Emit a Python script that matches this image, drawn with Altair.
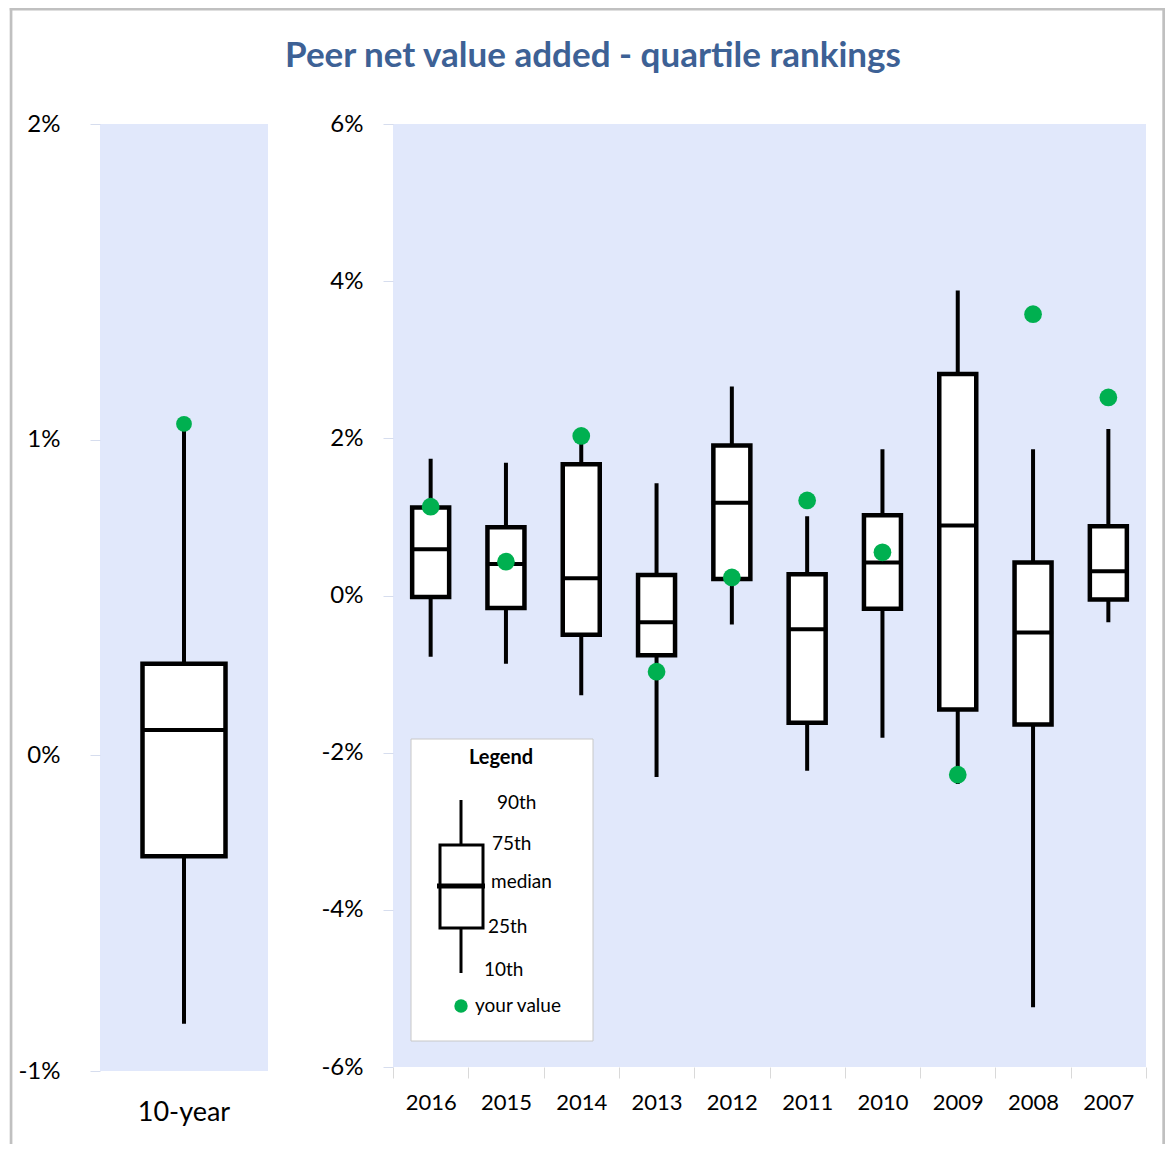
import altair as alt
import pandas as pd

# ---------------- data (percent units) ----------------
years = ["2016", "2015", "2014", "2013", "2012", "2011", "2010", "2009", "2008", "2007"]
yr_p90 = [1.74, 1.69, 1.98, 1.43, 2.66, 1.01, 1.86, 3.88, 1.86, 2.12]
yr_p75 = [1.12, 0.87, 1.67, 0.26, 1.91, 0.27, 1.02, 2.82, 0.42, 0.88]
yr_med = [0.59, 0.40, 0.22, -0.34, 1.18, -0.43, 0.42, 0.89, -0.47, 0.31]
yr_p25 = [-0.02, -0.16, -0.50, -0.76, 0.21, -1.62, -0.17, -1.45, -1.64, -0.05]
yr_p10 = [-0.78, -0.87, -1.27, -2.31, -0.37, -2.23, -1.81, -2.40, -5.24, -0.34]
yr_yours = [1.13, 0.43, 2.03, -0.97, 0.23, 1.21, 0.55, -2.28, 3.58, 2.52]

ten_label = ["10-year"]
ten_p90 = [1.03]
ten_p75 = [0.29]
ten_med = [0.08]
ten_p25 = [-0.32]
ten_p10 = [-0.85]
ten_yours = [1.05]

left_ticks = [-1, 0, 1, 2]
right_ticks = [-6, -4, -2, 0, 2, 4, 6]

title_text = "Peer net value added - quartile rankings"
legend_title = "Legend"
legend_labels = ["90th", "75th", "median", "25th", "10th"]
legend_dot_label = "your value"

# ---------------- styles ----------------
FONT = "Lato"
BG = "#e1e8fb"
GREEN = "#00b050"
TITLE_COLOR = "#3d6195"
FRAME = "#c0c0c0"

df_years = pd.DataFrame({"period": years, "p90": yr_p90, "p75": yr_p75, "median": yr_med,
                         "p25": yr_p25, "p10": yr_p10, "yours": yr_yours})
df_ten = pd.DataFrame({"period": ten_label, "p90": ten_p90, "p75": ten_p75, "median": ten_med,
                       "p25": ten_p25, "p10": ten_p10, "yours": ten_yours})
one = pd.DataFrame({"k": [0]})


def box_layers(df, order, xaxis, yscale, yaxis, box_size, tick_size, dot_size):
    x = alt.X("period:N", sort=order, title=None, axis=xaxis,
              scale=alt.Scale(paddingInner=0, paddingOuter=0))
    base = alt.Chart(df)
    whisk = base.mark_rule(color="black", strokeWidth=4).encode(
        x=x, y=alt.Y("p10:Q", scale=yscale, axis=yaxis, title=None), y2="p90:Q")
    box = base.mark_bar(size=box_size, fill="white", stroke="black", strokeWidth=4.5,
                        strokeJoin="miter").encode(x=x, y="p25:Q", y2="p75:Q")
    med = base.mark_tick(color="black", size=tick_size, thickness=4, opacity=1).encode(x=x, y="median:Q")
    dot = base.mark_circle(color=GREEN, size=dot_size, opacity=1).encode(x=x, y="yours:Q")
    return [whisk, box, med, dot]


def yaxis(vals, pad):
    return alt.Axis(values=vals, labelExpr="datum.value + '%'", labelFont=FONT, labelFontSize=24,
                    labelColor="black", tickColor="#d6ddee", tickSize=10, labelPadding=pad,
                    domain=False, grid=False)


# ---------------- left panel ----------------
left_x_axis = alt.Axis(labelFont=FONT, labelFontSize=27, labelColor="black", ticks=False,
                       domain=False, labelPadding=28, labelAngle=0)
left_layers = box_layers(df_ten, ten_label, left_x_axis,
                         alt.Scale(domain=[-1, 2], nice=False, zero=False),
                         yaxis(left_ticks, 30), 83, 86, 250)


# outer frame (top, left, right sides as thin filled rects; bottom is cut by the page edge)
def frame_piece(x1, x2, y1, y2):
    return alt.Chart(one).mark_rect(color=FRAME, strokeWidth=0).encode(
        x=alt.value(x1), x2=alt.value(x2), y=alt.value(y1), y2=alt.value(y2))


frame_top = frame_piece(-90.3, 1065, -116.3, -113.6)
frame_left = frame_piece(-90.3, -87.6, -116.3, 1020)
frame_right = frame_piece(1062.3, 1065, -116.3, 1020)
title = alt.Chart(one).mark_text(text=title_text, font=FONT, fontWeight="bold", fontSize=35,
                                 color=TITLE_COLOR, align="center", baseline="middle").encode(
    x=alt.value(493), y=alt.value(-68))

left = alt.layer(frame_top, frame_left, frame_right, *left_layers, title).properties(width=168, height=947)

# ---------------- right panel ----------------
right_x_axis = alt.Axis(labelFont=FONT, labelFontSize=22, labelColor="black", tickBand="extent",
                        tickColor="#d9d9d9", tickSize=11, labelPadding=14, domain=False, labelAngle=0)
right_layers = box_layers(df_years, years, right_x_axis,
                          alt.Scale(domain=[-6, 6], nice=False, zero=False),
                          yaxis(right_ticks, 20), 37, 40, 314)

# legend (decoration, pixel positions inside the right panel)
leg_box = alt.Chart(one).mark_rect(fill="white", stroke="#c8c8c8", strokeWidth=1).encode(
    x=alt.value(18), x2=alt.value(200), y=alt.value(615), y2=alt.value(917))
leg_title = alt.Chart(one).mark_text(text=legend_title, font=FONT, fontWeight="bold", fontSize=20,
                                     color="black", align="center", baseline="middle").encode(
    x=alt.value(108), y=alt.value(634))
leg_whisk = alt.Chart(one).mark_rule(color="black", strokeWidth=3).encode(
    x=alt.value(68), y=alt.value(676), y2=alt.value(849))
leg_rect = alt.Chart(one).mark_rect(fill="white", stroke="black", strokeWidth=3).encode(
    x=alt.value(47), x2=alt.value(90), y=alt.value(721), y2=alt.value(804))
leg_med = alt.Chart(one).mark_rule(color="black", strokeWidth=5).encode(
    x=alt.value(44), x2=alt.value(92), y=alt.value(762))
leg_pos = [(104, 679), (99, 720), (98, 758), (95, 803), (91, 846)]
leg_texts = [alt.Chart(one).mark_text(text=t, font=FONT, fontSize=19, color="black", align="left",
                                      baseline="middle").encode(x=alt.value(px), y=alt.value(py))
             for t, (px, py) in zip(legend_labels, leg_pos)]
leg_dot = alt.Chart(one).mark_circle(color=GREEN, size=180, opacity=1).encode(
    x=alt.value(68), y=alt.value(882))
leg_dot_text = alt.Chart(one).mark_text(text=legend_dot_label, font=FONT, fontSize=19, color="black",
                                        align="left", baseline="middle").encode(
    x=alt.value(82), y=alt.value(882))

right = alt.layer(*right_layers, leg_box, leg_title, leg_whisk, leg_rect, leg_med, *leg_texts,
                  leg_dot, leg_dot_text).properties(width=753, height=943)

chart = alt.hconcat(left, right, spacing=125, bounds="flush").properties(
    padding={"left": 1, "top": -1, "right": 0, "bottom": 0}
).configure(background="white").configure_view(fill=BG, strokeWidth=0, stroke="transparent")

chart.save("out.html", embed_options={"renderer": "svg", "actions": False})
